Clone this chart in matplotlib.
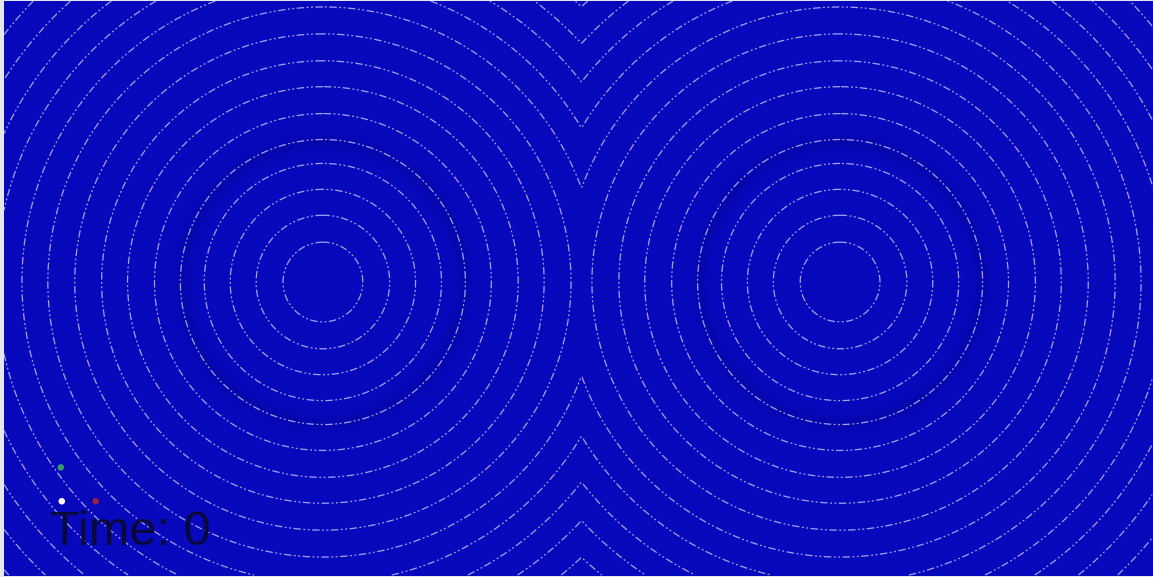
import numpy as np
import matplotlib.pyplot as plt
from matplotlib.colors import LinearSegmentedColormap

# grid size of the rendered field
width, height = 1153, 577

# two point sources and the radii of the contour rings around them
source_x = [320, 839]
source_y = 282
ring_radii = [40, 67, 93, 119, 143, 169, 196, 222, 249, 276, 302, 328,
              353, 379, 405, 431, 457]

# darker trough in the field
trough_radius = 141
trough_depth = 0.22

# orientation glyph (x, y, colour)
glyph_x = [57, 58, 92]
glyph_y = [468, 502, 502]
glyph_c = ['#3a9a6a', '#ffffff', '#9a2040']

time_label = "Time: 0"

x = np.arange(width)
y = np.arange(height)
X, Y = np.meshgrid(x, y)
r1 = np.hypot(X - source_x[0], Y - source_y)
r2 = np.hypot(X - source_x[1], Y - source_y)
D = np.minimum(r1, r2)

shade = 1 - trough_depth * np.exp(-((D - trough_radius) / 7.0) ** 2)

cmap = LinearSegmentedColormap.from_list('deepblue', ['#00007a', '#0808bc'])

fig = plt.figure(figsize=(width / 100, height / 100), dpi=100, facecolor='#e6e6ee')
ax = fig.add_axes([4 / width, 0, 1 - 4 / width, 1])
ax.imshow(shade, cmap=cmap, vmin=0, vmax=1, origin='upper',
          extent=(0, width, height, 0), interpolation='bilinear')
ax.contour(X, Y, D, levels=ring_radii, colors='#c8c8ff', linewidths=0.9,
           linestyles=[(0, (6, 2, 1.5, 2, 1.5, 2))], alpha=0.8)

ax.scatter(glyph_x, glyph_y, s=22, c=glyph_c, zorder=5, edgecolors='none')
ax.text(46, 546, time_label, fontsize=35, family='Liberation Sans',
        color='#08082e', va='baseline', alpha=0.9, zorder=6)

ax.set_xlim(0, width)
ax.set_ylim(height, 0)
ax.axis('off')

fig.savefig('out.png', dpi=100)
